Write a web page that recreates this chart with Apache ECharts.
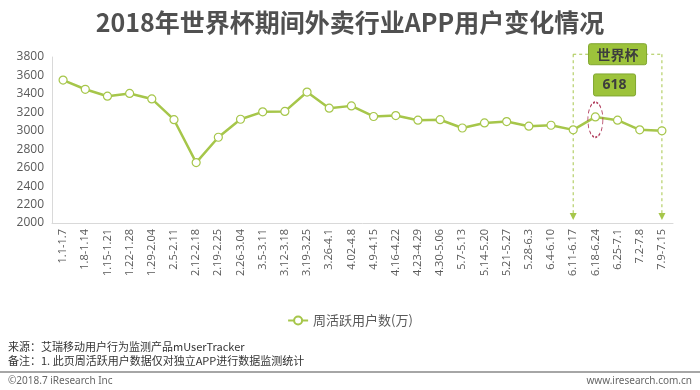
<!DOCTYPE html>
<html>
<head>
<meta charset="utf-8">
<script src="https://cdn.jsdelivr.net/npm/echarts@6/dist/echarts.min.js"></script>
<style>html,body{margin:0;padding:0;background:#fff}#c{width:700px;height:390px}</style>
</head>
<body>
<div id="c"></div>
<script>
const categories = ['1.1-1.7','1.8-1.14','1.15-1.21','1.22-1.28','1.29-2.04','2.5-2.11','2.12-2.18','2.19-2.25','2.26-3.04','3.5-3.11','3.12-3.18','3.19-3.25','3.26-4.1','4.02-4.8','4.9-4.15','4.16-4.22','4.23-4.29','4.30-5.06','5.7-5.13','5.14-5.20','5.21-5.27','5.28-6.3','6.4-6.10','6.11-6.17','6.18-6.24','6.25-7.1','7.2-7.8','7.9-7.15'];
const weeklyActiveUsers = [3550,3450,3375,3405,3345,3120,2655,2930,3125,3205,3210,3420,3245,3270,3155,3165,3115,3120,3030,3085,3100,3050,3060,3010,3150,3115,3010,3000];
const seriesName = '周活跃用户数(万)';
const worldCupStart = '6.11-6.17';
const worldCupEnd = '7.9-7.15';
const peak618 = '6.18-6.24';

const GREEN = '#a6c64a';
const chart = echarts.init(document.getElementById('c'));
const iStart = categories.indexOf(worldCupStart);
const iEnd = categories.indexOf(worldCupEnd);
const iPeak = categories.indexOf(peak618);

chart.setOption({
  animation: false,
  title: {
    text: '2018年世界杯期间外卖行业APP用户变化情况',
    left: 'center',
    top: 5,
    textStyle: {fontSize: 25, fontWeight: 'bold', color: '#505050', fontFamily: 'Noto Sans CJK SC'}
  },
  legend: {
    data: [seriesName],
    bottom: 58,
    left: 'center',
    itemWidth: 20,
    itemHeight: 10,
    textStyle: {fontSize: 13, color: '#595959', fontFamily: 'Noto Sans CJK SC'}
  },
  grid: {left: 52, right: 27, top: 57, bottom: 167},
  xAxis: {
    type: 'category',
    data: categories,
    axisLine: {lineStyle: {color: '#d9d9d9'}},
    axisTick: {show: false},
    axisLabel: {rotate: 90, fontSize: 11, color: '#595959', margin: 6, interval: 0, fontFamily: 'Open Sans'}
  },
  yAxis: {
    type: 'value',
    min: 2000, max: 3800, interval: 200,
    axisLine: {show: true, lineStyle: {color: '#d9d9d9'}},
    axisTick: {show: false},
    splitLine: {show: false},
    axisLabel: {fontSize: 12, color: '#595959', margin: 8, fontFamily: 'Open Sans', formatter: v => String(v)}
  },
  series: [{
    name: seriesName,
    type: 'line',
    data: weeklyActiveUsers,
    symbol: 'circle',
    symbolSize: 8,
    lineStyle: {color: GREEN, width: 2.5},
    itemStyle: {color: '#fff', borderColor: GREEN, borderWidth: 1.2},
    markPoint: {
      silent: true,
      data: [
        {
          coord: [iPeak, weeklyActiveUsers[iPeak] - 30],
          symbol: 'circle', symbolSize: [15, 35],
          itemStyle: {color: 'rgba(0,0,0,0)', borderColor: '#b03a5b', borderWidth: 1.2, borderType: [3, 2]},
          label: {show: false}
        }
      ]
    }
  }]
});

// Annotation graphics positioned through the chart's own scales
const xs = chart.convertToPixel({xAxisIndex: 0}, iStart);
const xe = chart.convertToPixel({xAxisIndex: 0}, iEnd);
const yTop = chart.convertToPixel({yAxisIndex: 0}, 3830);
const yBot = chart.convertToPixel({yAxisIndex: 0}, 2000) - 3;
const y618 = chart.convertToPixel({yAxisIndex: 0}, 3497);
const xm = (xs + xe) / 2;
const dash = {stroke: GREEN, lineWidth: 1, lineDash: [3, 3]};
const boxStyle = {fill: '#9dc33b', stroke: '#80a630', lineWidth: 1};
const txtStyle = {fill: '#3d3d3d', fontSize: 14, fontWeight: 'bold', fontFamily: 'Noto Sans CJK SC', align: 'center', verticalAlign: 'middle'};

chart.setOption({
  graphic: [
    {type: 'line', shape: {x1: xs, y1: yTop, x2: xs, y2: yBot - 6}, style: dash, z: 1},
    {type: 'line', shape: {x1: xe, y1: yTop, x2: xe, y2: yBot - 6}, style: dash, z: 1},
    {type: 'line', shape: {x1: xs, y1: yTop, x2: xe, y2: yTop}, style: dash, z: 1},
    {type: 'polygon', shape: {points: [[xs - 3.5, yBot - 7], [xs + 3.5, yBot - 7], [xs, yBot]]}, style: {fill: GREEN}, z: 1},
    {type: 'polygon', shape: {points: [[xe - 3.5, yBot - 7], [xe + 3.5, yBot - 7], [xe, yBot]]}, style: {fill: GREEN}, z: 1},
    {type: 'rect', shape: {x: xm - 29, y: yTop - 10.5, width: 58, height: 21, r: 2}, style: boxStyle, z: 5},
    {type: 'text', x: xm, y: yTop, style: Object.assign({text: '世界杯'}, txtStyle), z: 6},
    {type: 'rect', shape: {x: xm - 24, y: y618 - 11, width: 42, height: 22, r: 2}, style: boxStyle, z: 5},
    {type: 'text', x: xm - 3, y: y618, style: Object.assign({}, txtStyle, {text: '618', fontFamily: 'Open Sans'}), z: 6},
    {type: 'text', left: 8, top: 341, style: {text: '来源：艾瑞移动用户行为监测产品mUserTracker', fontSize: 11, fill: '#333', fontFamily: 'Noto Sans CJK SC'}},
    {type: 'text', left: 8, top: 355, style: {text: '备注：1. 此页周活跃用户数据仅对独立APP进行数据监测统计', fontSize: 11, fill: '#333', fontFamily: 'Noto Sans CJK SC'}},
    {type: 'rect', left: 0, top: 371, shape: {width: 700, height: 2}, style: {fill: '#a6a6a6'}},
    {type: 'text', left: 8, top: 376, style: {text: '©2018.7 iResearch Inc', fontSize: 10, fill: '#666', fontFamily: 'Noto Sans'}},
    {type: 'text', right: 8, top: 376, style: {text: 'www.iresearch.com.cn', fontSize: 10, fill: '#666', fontFamily: 'Noto Sans'}}
  ]
});
</script>
</body>
</html>
